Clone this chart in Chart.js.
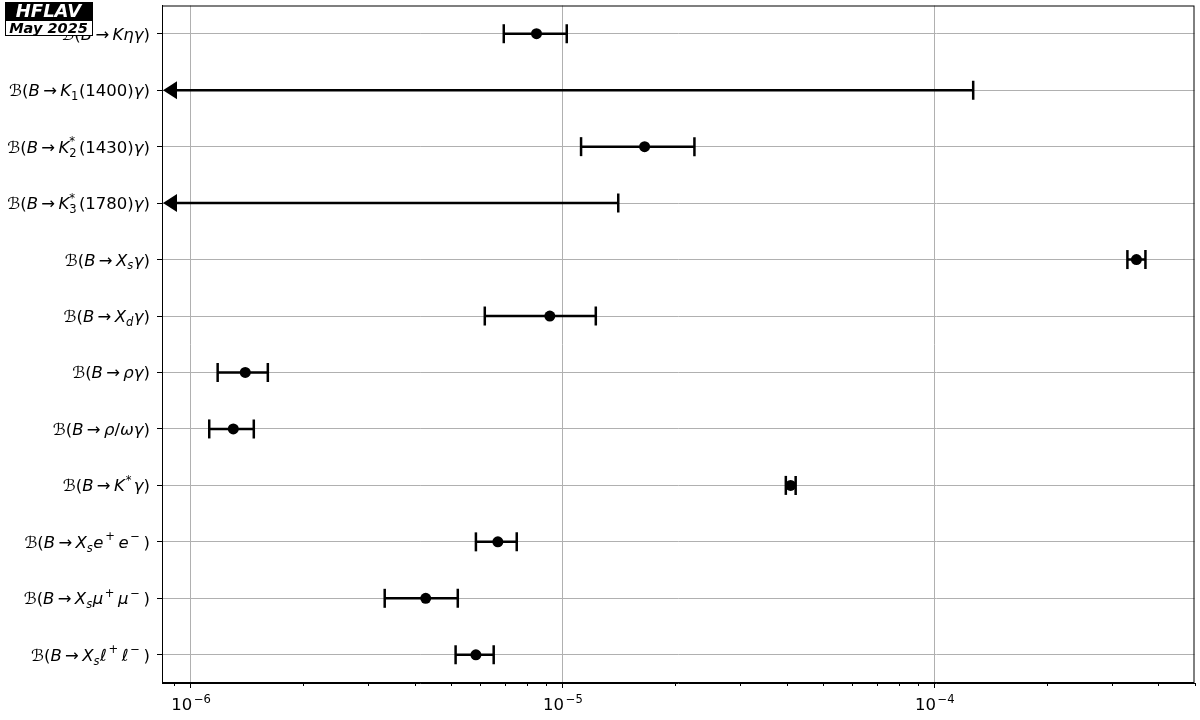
<!DOCTYPE html>
<html>
<head>
<meta charset="utf-8">
<script src="https://cdn.jsdelivr.net/npm/chart.js@4.4.1/dist/chart.umd.min.js"></script>
<style>
html, body { margin: 0; padding: 0; background: #fff; }
#wrap { width: 1200px; height: 720px; }
</style>
</head>
<body>
<div id="wrap"><canvas id="chart" width="1200" height="720"></canvas></div>
<script>
// Decay modes (mini markup: _{} subscript, ^{} superscript)
const decays = [
    'ℬ(B→Kηγ)',
    'ℬ(B→K_{1}(1400)γ)',
    'ℬ(B→K_{2}^{*}(1430)γ)',
    'ℬ(B→K_{3}^{*}(1780)γ)',
    'ℬ(B→X_{s}γ)',
    'ℬ(B→X_{d}γ)',
    'ℬ(B→ργ)',
    'ℬ(B→ρ/ωγ)',
    'ℬ(B→K^{*}γ)',
    'ℬ(B→X_{s}e^{+}e^{−})',
    'ℬ(B→X_{s}μ^{+}μ^{−})',
    'ℬ(B→X_{s}ℓ^{+}ℓ^{−})'
];
// Central values, null for upper limits
const centralValues = [8.5e-6, null, 1.66e-5, null, 3.49e-4, 9.23e-6, 1.40e-6, 1.30e-6, 4.10e-5, 6.69e-6, 4.28e-6, 5.84e-6];
const lowerValues   = [6.94e-6, null, 1.12e-5, null, 3.30e-4, 6.17e-6, 1.18e-6, 1.12e-6, 3.98e-5, 5.84e-6, 3.32e-6, 5.15e-6];
// Upper end of error bar, or upper limit when central value is null
const upperValues   = [1.025e-5, 1.27e-4, 2.26e-5, 1.41e-5, 3.69e-4, 1.227e-5, 1.61e-6, 1.476e-6, 4.23e-5, 7.52e-6, 5.22e-6, 6.52e-6];
const xMajorTicks = [1e-6, 1e-5, 1e-4];
const xTickLabels = ['10^{−6}', '10^{−5}', '10^{−4}'];
const xMin = 8.36e-7;
const xMax = 5.0e-4;

const FONT = '"DejaVu Sans", sans-serif';
const LABEL_SIZE = 16.5;

// Petit moteur de texte pour les indices/exposants
function tokenize(str) {
    const toks = [];
    let i = 0;
    while (i < str.length) {
        const c = str[i];
        if ((c === '_' || c === '^') && str[i + 1] === '{') {
            const end = str.indexOf('}', i);
            const tok = { text: str.slice(i + 2, end), kind: c === '_' ? 'sub' : 'sup' };
            const prev = toks[toks.length - 1];
            if (prev && prev.kind === 'sub' && tok.kind === 'sup' && !prev.pair) prev.pair = tok;
            else toks.push(tok);
            i = end + 1;
        } else {
            toks.push({ text: c, kind: 'base' });
            i++;
        }
    }
    return toks;
}

function fontFor(ch, size) {
    const italic = /[A-Za-z\u0370-\u03FFℓ]/.test(ch);
    return (italic ? 'italic ' : '') + size + 'px ' + FONT;
}

function mathText(ctx, str, size, x0, baseline, draw) {
    const toks = tokenize(str);
    let x = x0;
    const drawStr = (s, sz, dy) => {
        let w = 0;
        for (const ch of s) {
            ctx.font = fontFor(ch, sz);
            if (draw) ctx.fillText(ch, x + w, baseline + dy);
            w += ctx.measureText(ch).width;
        }
        return w;
    };
    const supUp = -size * 0.45;
    toks.forEach(t => {
        if (t.kind === 'base') {
            if (t.text === '→') {
                x += size * 0.2;
                x += drawStr('→', size, 0);
                x += size * 0.2;
            } else {
                x += drawStr(t.text, size, 0);
            }
        } else {
            const ss = size * 0.7;
            const sup = t.kind === 'sup' ? t : t.pair;
            const binop = sup && /[+−]/.test(sup.text);
            if (sup && !t.pair) x += size * (binop ? 0.1 : 0.06);
            let w = 0;
            if (t.kind === 'sub') w = drawStr(t.text, ss, size * 0.24);
            if (sup) w = Math.max(w, drawStr(sup.text, ss, supUp));
            x += w;
            x += size * (binop ? 0.22 : (sup ? 0.14 : 0.03));
        }
    });
    return x - x0;
}

// Plugin : barres d'erreur, limites, cadre, étiquettes et logo
const decorPlugin = {
    id: 'decor',
    beforeDatasetsDraw(chart) {
        const ctx = chart.ctx;
        const xs = chart.scales.x, ys = chart.scales.y;
        const area = chart.chartArea;
        const capH = 9.5;
        ctx.save();
        ctx.strokeStyle = '#000';
        ctx.fillStyle = '#000';
        ctx.lineWidth = 2.5;
        decays.forEach((d, i) => {
            const y = ys.getPixelForValue(i);
            const hi = xs.getPixelForValue(upperValues[i]);
            let lo;
            if (centralValues[i] === null) {
                lo = area.left + 14;
                ctx.beginPath();
                ctx.moveTo(area.left + 1, y);
                ctx.lineTo(area.left + 15, y - 9);
                ctx.lineTo(area.left + 15, y + 9);
                ctx.closePath();
                ctx.fill();
            } else {
                lo = xs.getPixelForValue(lowerValues[i]);
                ctx.beginPath();
                ctx.moveTo(lo, y - capH);
                ctx.lineTo(lo, y + capH);
                ctx.stroke();
            }
            ctx.beginPath();
            ctx.moveTo(lo, y);
            ctx.lineTo(hi, y);
            ctx.moveTo(hi, y - capH);
            ctx.lineTo(hi, y + capH);
            ctx.stroke();
        });
        ctx.restore();
    },
    afterDraw(chart) {
        const ctx = chart.ctx;
        const xs = chart.scales.x, ys = chart.scales.y;
        const area = chart.chartArea;
        ctx.save();
        // cadre
        ctx.strokeStyle = '#000';
        ctx.lineWidth = 1;
        ctx.strokeRect(area.left + 0.5, area.top + 0.5, area.right - area.left - 1, area.bottom - area.top - 1);
        // graduations mineures de l'axe x
        ctx.beginPath();
        for (let e = -7; e <= -3; e++) {
            for (let m = 2; m <= 9; m++) {
                const v = m * Math.pow(10, e);
                if (v < xMin || v > xMax) continue;
                const px = Math.round(xs.getPixelForValue(v)) + 0.5;
                ctx.moveTo(px, area.bottom);
                ctx.lineTo(px, area.bottom + 3);
            }
        }
        ctx.stroke();
        // étiquettes y
        ctx.fillStyle = '#000';
        ctx.textBaseline = 'alphabetic';
        ctx.textAlign = 'left';
        decays.forEach((d, i) => {
            const y = ys.getPixelForValue(i) + LABEL_SIZE * 0.36;
            const w = mathText(ctx, d, LABEL_SIZE, 0, y, false);
            mathText(ctx, d, LABEL_SIZE, area.left - 12 - w, y, true);
        });
        // étiquettes x
        xMajorTicks.forEach((v, i) => {
            const px = xs.getPixelForValue(v);
            const w = mathText(ctx, xTickLabels[i], LABEL_SIZE, 0, 0, false);
            mathText(ctx, xTickLabels[i], LABEL_SIZE, px - w / 2 + 2, area.bottom + 27, true);
        });
        // logo HFLAV
        ctx.fillStyle = '#000';
        ctx.fillRect(5, 2, 88, 18);
        ctx.fillStyle = '#fff';
        ctx.fillRect(5, 20, 88, 16);
        ctx.strokeStyle = '#000';
        ctx.lineWidth = 1;
        ctx.strokeRect(5.5, 20.5, 87, 15);
        ctx.textAlign = 'center';
        ctx.font = 'italic bold 18px ' + FONT;
        ctx.fillStyle = '#fff';
        ctx.fillText('HFLAV', 48.5, 17);
        ctx.font = 'italic bold 14.5px ' + FONT;
        ctx.fillStyle = '#000';
        ctx.fillText('May 2025', 48.5, 33);
        ctx.restore();
    }
};

const ctx = document.getElementById('chart').getContext('2d');
const chart = new Chart(ctx, {
    type: 'line',
    data: {
        labels: decays,
        datasets: [{
            data: centralValues,
            showLine: false,
            pointRadius: 5.5,
            pointHoverRadius: 5.5,
            pointBorderWidth: 0,
            pointBackgroundColor: '#000',
            borderColor: '#000'
        }]
    },
    options: {
        indexAxis: 'y',
        responsive: false,
        animation: false,
        layout: { padding: { left: 157, right: 5, top: 5, bottom: 32 } },
        plugins: {
            legend: { display: false },
            tooltip: { enabled: false }
        },
        scales: {
            x: {
                type: 'logarithmic',
                min: xMin,
                max: xMax,
                afterBuildTicks: scale => {
                    scale.ticks = xMajorTicks.map(v => ({ value: v }));
                },
                ticks: { display: false, autoSkip: false },
                grid: { color: '#b0b0b0', lineWidth: 1, tickColor: '#000', tickLength: 5 },
                border: { color: '#000', width: 1 }
            },
            y: {
                type: 'category',
                offset: true,
                ticks: { display: false },
                grid: { offset: false, color: '#b0b0b0', lineWidth: 1, tickColor: '#000', tickLength: 5 },
                border: { color: '#000', width: 1 }
            }
        }
    },
    plugins: [decorPlugin]
});
</script>
</body>
</html>
